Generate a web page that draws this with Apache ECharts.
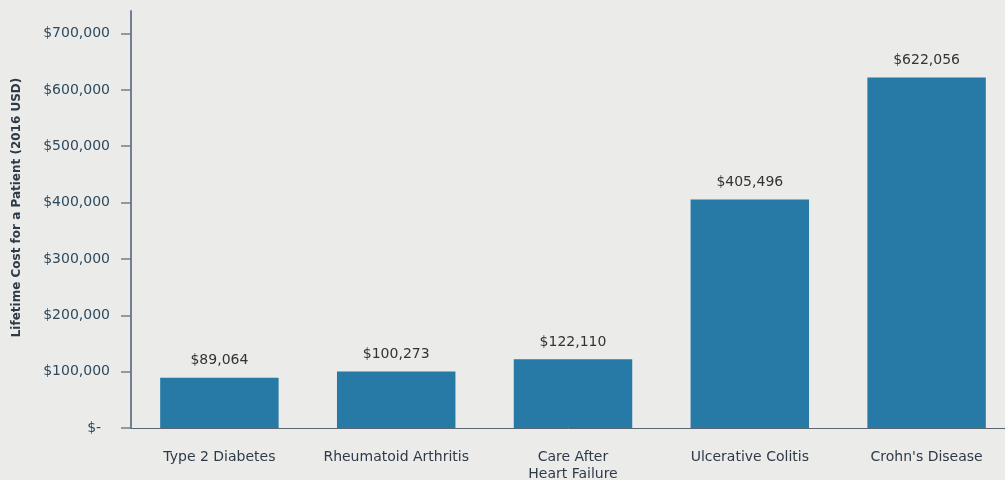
<!DOCTYPE html>
<html><head><meta charset="utf-8">
<script src="https://cdn.jsdelivr.net/npm/echarts@6/dist/echarts.min.js"></script>
<style>html,body{margin:0;padding:0;background:#ebebea}#c{width:1005px;height:480px}</style>
</head><body><div id="c"></div>
<script>
const categories = ["Type 2 Diabetes", "Rheumatoid Arthritis", "Care After\nHeart Failure", "Ulcerative Colitis", "Crohn's Disease"];
const costs = [89064, 100273, 122110, 405496, 622056];
const yTicks = [0, 100000, 200000, 300000, 400000, 500000, 600000, 700000];
const yName = "Lifetime Cost for a Patient (2016 USD)";

function money(v){ return v === 0 ? "$-  " : "$" + v.toLocaleString("en-US"); }
const FONT = 'DejaVu Sans';

const chart = echarts.init(document.getElementById('c'));
chart.setOption({
  backgroundColor: '#ebebea',
  animation: false,
  grid: { left: 131, width: 884, top: 11, bottom: 52, outerBoundsMode: 'none', containLabel: false },
  xAxis: {
    type: 'category', data: categories,
    axisLine: { lineStyle: { color: '#5c6670', width: 1 } },
    axisTick: { show: false },
    axisLabel: { interval: 0, color: '#2e3a46', fontSize: 14, fontFamily: FONT, margin: 21, lineHeight: 17 }
  },
  yAxis: {
    type: 'value', min: 0, max: 740000,
    name: yName, nameLocation: 'middle', nameGap: 108,
    nameTextStyle: { color: '#2e3a46', fontSize: 12, fontWeight: 'bold', fontFamily: FONT, padding: [0, 0, 0, 24] },
    splitLine: { show: false },
    axisLine: { show: true, lineStyle: { color: '#6f8090', width: 2 } },
    axisTick: { show: true, inside: false, length: 10, customValues: yTicks, lineStyle: { color: '#6f8090', width: 1.5 } },
    axisLabel: { customValues: yTicks, margin: 21, color: '#2e4a5c', fontSize: 14, fontFamily: FONT, formatter: money }
  },
  series: [{
    type: 'bar', data: costs, barWidth: '67%',
    itemStyle: { color: '#2779a6' },
    label: { show: true, position: 'top', distance: 10, color: '#333', fontSize: 14, fontFamily: FONT, formatter: p => money(p.value) }
  }]
});
</script></body></html>
